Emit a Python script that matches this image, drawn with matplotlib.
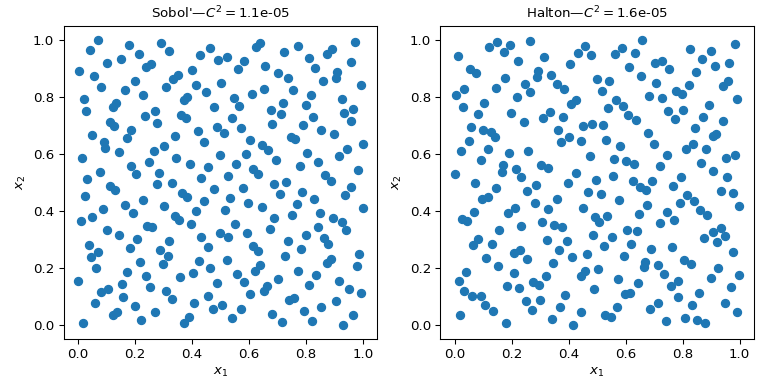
import numpy as np
import matplotlib
matplotlib.use("Agg")
import matplotlib.pyplot as plt

# sample points (x1, x2), 256 per engine
sobol_pts = [
    (0.071, 0.998), (0.042, 0.964), (0.178, 0.983), (0.213, 0.950), (0.291, 0.990),
    (0.320, 0.962), (0.430, 0.946), (0.465, 0.972), (0.103, 0.918), (0.153, 0.932),
    (0.006, 0.891), (0.057, 0.873), (0.082, 0.836), (0.238, 0.904), (0.257, 0.915),
    (0.199, 0.854), (0.164, 0.823), (0.227, 0.807), (0.333, 0.862), (0.352, 0.875),
    (0.309, 0.833), (0.402, 0.893), (0.413, 0.843), (0.449, 0.818), (0.023, 0.791),
    (0.029, 0.749), (0.122, 0.763), (0.135, 0.779), (0.235, 0.733), (0.272, 0.751),
    (0.277, 0.708), (0.371, 0.788), (0.384, 0.801), (0.362, 0.738), (0.378, 0.724),
    (0.113, 0.711), (0.126, 0.696), (0.188, 0.683), (0.171, 0.655), (0.051, 0.666),
    (0.092, 0.642), (0.096, 0.619), (0.145, 0.605), (0.340, 0.661), (0.302, 0.627),
    (0.267, 0.610), (0.423, 0.680), (0.441, 0.642), (0.014, 0.587), (0.249, 0.570),
    (0.345, 0.584), (0.393, 0.566), (0.186, 0.557), (0.205, 0.528), (0.077, 0.538),
    (0.284, 0.534), (0.458, 0.553),
    (0.490, 0.928), (0.522, 0.939), (0.583, 0.925), (0.561, 0.897), (0.625, 0.975),
    (0.640, 0.989), (0.721, 0.958), (0.771, 0.979), (0.809, 0.937), (0.831, 0.900),
    (0.874, 0.950), (0.892, 0.968), (0.973, 0.992), (0.956, 0.921), (0.657, 0.907),
    (0.703, 0.882), (0.738, 0.865), (0.501, 0.850), (0.611, 0.811), (0.654, 0.829),
    (0.753, 0.825), (0.860, 0.854), (0.906, 0.867), (0.910, 0.886), (0.991, 0.841),
    (0.547, 0.797), (0.565, 0.769), (0.476, 0.765), (0.677, 0.754), (0.718, 0.780),
    (0.711, 0.740), (0.799, 0.772), (0.817, 0.808), (0.927, 0.793), (0.934, 0.744),
    (0.966, 0.758), (0.959, 0.715), (0.540, 0.726), (0.573, 0.690), (0.487, 0.694),
    (0.512, 0.672), (0.682, 0.705), (0.789, 0.700), (0.824, 0.728), (0.853, 0.683),
    (0.899, 0.669), (0.604, 0.648), (0.647, 0.630), (0.668, 0.612), (0.746, 0.660),
    (0.762, 0.651), (0.998, 0.634), (0.945, 0.616), (0.917, 0.591), (0.803, 0.602),
    (0.841, 0.573), (0.497, 0.595), (0.590, 0.598), (0.554, 0.563), (0.696, 0.578),
    (0.778, 0.559), (0.615, 0.546), (0.632, 0.531), (0.981, 0.545), (0.526, 0.521),
    (0.868, 0.525),
    (0.032, 0.513), (0.432, 0.515), (0.329, 0.499), (0.276, 0.493), (0.113, 0.487),
    (0.132, 0.474), (0.025, 0.452), (0.365, 0.463), (0.384, 0.449), (0.444, 0.435),
    (0.227, 0.438), (0.166, 0.420), (0.089, 0.406), (0.194, 0.393), (0.301, 0.416),
    (0.416, 0.399), (0.011, 0.365), (0.050, 0.378), (0.243, 0.349), (0.261, 0.344),
    (0.340, 0.381), (0.353, 0.368), (0.397, 0.353), (0.103, 0.333), (0.145, 0.314),
    (0.206, 0.300), (0.184, 0.271), (0.320, 0.294), (0.288, 0.262), (0.316, 0.243),
    (0.299, 0.214), (0.432, 0.310), (0.457, 0.275), (0.039, 0.282), (0.071, 0.257),
    (0.046, 0.239), (0.064, 0.201), (0.217, 0.222), (0.425, 0.226), (0.465, 0.199),
    (0.000, 0.154), (0.173, 0.185), (0.238, 0.172), (0.359, 0.168), (0.404, 0.181),
    (0.154, 0.143), (0.254, 0.133), (0.083, 0.115), (0.107, 0.126), (0.158, 0.097),
    (0.309, 0.119), (0.330, 0.091), (0.455, 0.102), (0.061, 0.079), (0.201, 0.066),
    (0.409, 0.077), (0.124, 0.034), (0.139, 0.046), (0.222, 0.018), (0.270, 0.045),
    (0.373, 0.008), (0.391, 0.027), (0.018, 0.006),
    (0.477, 0.477), (0.578, 0.481), (0.533, 0.444), (0.515, 0.403), (0.597, 0.428),
    (0.645, 0.413), (0.686, 0.496), (0.728, 0.502), (0.707, 0.460), (0.785, 0.467),
    (0.769, 0.423), (0.828, 0.442), (0.886, 0.506), (0.959, 0.483), (0.938, 0.455),
    (0.998, 0.410), (0.849, 0.392), (0.895, 0.374), (0.925, 0.360), (0.941, 0.332),
    (0.841, 0.345), (0.750, 0.385), (0.689, 0.374), (0.672, 0.335), (0.551, 0.355),
    (0.497, 0.323), (0.528, 0.308), (0.593, 0.321), (0.615, 0.278), (0.630, 0.261),
    (0.735, 0.293), (0.783, 0.268), (0.799, 0.316), (0.863, 0.304), (0.878, 0.284),
    (0.727, 0.243), (0.887, 0.233), (0.875, 0.219), (0.984, 0.250), (0.977, 0.207),
    (0.522, 0.229), (0.637, 0.212), (0.622, 0.191), (0.558, 0.178), (0.584, 0.151),
    (0.487, 0.147), (0.771, 0.190), (0.835, 0.175), (0.700, 0.161), (0.810, 0.140),
    (0.917, 0.156), (0.949, 0.126), (0.991, 0.111), (0.664, 0.136), (0.654, 0.121),
    (0.604, 0.108), (0.739, 0.087), (0.757, 0.094), (0.853, 0.065), (0.906, 0.083),
    (0.473, 0.057), (0.507, 0.069), (0.572, 0.055), (0.540, 0.026), (0.679, 0.040),
    (0.714, 0.012), (0.792, 0.051), (0.822, 0.016), (0.931, 0.002), (0.966, 0.037),
]

halton_pts = [
    (0.012, 0.943), (0.122, 0.976), (0.150, 0.992), (0.172, 0.957), (0.193, 0.982),
    (0.264, 0.996), (0.221, 0.926), (0.314, 0.939), (0.406, 0.917), (0.433, 0.955),
    (0.053, 0.897), (0.076, 0.883), (0.176, 0.867), (0.147, 0.831), (0.005, 0.807),
    (0.033, 0.827), (0.104, 0.780), (0.030, 0.765), (0.081, 0.741), (0.218, 0.801),
    (0.246, 0.844), (0.266, 0.816), (0.292, 0.892), (0.288, 0.872), (0.339, 0.878),
    (0.359, 0.847), (0.385, 0.829), (0.409, 0.777), (0.427, 0.788), (0.197, 0.744),
    (0.243, 0.712), (0.310, 0.726), (0.335, 0.747), (0.381, 0.730), (0.364, 0.683),
    (0.374, 0.641), (0.403, 0.659), (0.445, 0.647), (0.059, 0.694), (0.098, 0.686),
    (0.129, 0.676), (0.142, 0.661), (0.052, 0.645), (0.118, 0.619), (0.022, 0.612),
    (0.094, 0.578), (0.191, 0.602), (0.259, 0.610), (0.000, 0.531), (0.169, 0.560),
    (0.165, 0.537), (0.214, 0.547), (0.232, 0.518), (0.303, 0.563), (0.329, 0.551),
    (0.425, 0.534),
    (0.456, 0.978), (0.477, 0.946), (0.562, 0.950), (0.587, 0.971), (0.634, 0.955),
    (0.658, 0.999), (0.611, 0.905), (0.655, 0.875), (0.703, 0.921), (0.729, 0.928),
    (0.753, 0.900), (0.825, 0.968), (0.868, 0.932), (0.898, 0.960), (0.913, 0.908),
    (0.964, 0.919), (0.985, 0.986), (0.847, 0.889), (0.500, 0.865), (0.541, 0.855),
    (0.516, 0.822), (0.707, 0.850), (0.682, 0.805), (0.726, 0.796), (0.778, 0.820),
    (0.797, 0.811), (0.822, 0.841), (0.940, 0.840), (0.960, 0.857), (0.989, 0.793),
    (0.566, 0.790), (0.538, 0.762), (0.591, 0.769), (0.607, 0.737), (0.637, 0.720),
    (0.750, 0.752), (0.772, 0.724), (0.800, 0.756), (0.893, 0.772), (0.872, 0.730),
    (0.943, 0.717), (0.451, 0.698), (0.481, 0.705), (0.520, 0.701), (0.530, 0.651),
    (0.580, 0.628), (0.680, 0.673), (0.701, 0.634), (0.744, 0.598), (0.843, 0.692),
    (0.908, 0.663), (0.918, 0.670), (0.836, 0.637), (0.811, 0.616), (0.882, 0.619),
    (0.474, 0.592), (0.559, 0.584), (0.603, 0.574), (0.631, 0.566), (0.722, 0.557),
    (0.864, 0.570), (0.907, 0.541), (0.952, 0.587), (0.982, 0.595), (0.555, 0.524),
    (0.793, 0.521), (0.957, 0.519),
    (0.071, 0.497), (0.146, 0.481), (0.285, 0.492), (0.255, 0.469), (0.282, 0.430),
    (0.096, 0.442), (0.116, 0.451), (0.398, 0.499), (0.358, 0.444), (0.329, 0.406),
    (0.069, 0.396), (0.026, 0.371), (0.045, 0.365), (0.186, 0.392), (0.212, 0.412),
    (0.234, 0.346), (0.307, 0.360), (0.349, 0.352), (0.378, 0.344), (0.157, 0.332),
    (0.082, 0.303), (0.063, 0.282), (0.131, 0.285), (0.323, 0.300), (0.366, 0.265),
    (0.396, 0.294), (0.413, 0.239), (0.111, 0.236), (0.208, 0.252), (0.230, 0.262),
    (0.253, 0.232), (0.154, 0.207), (0.040, 0.185), (0.017, 0.154), (0.207, 0.182),
    (0.347, 0.218), (0.442, 0.172), (0.184, 0.136), (0.225, 0.129), (0.274, 0.151),
    (0.295, 0.139), (0.321, 0.172), (0.033, 0.121), (0.060, 0.101), (0.092, 0.102),
    (0.108, 0.069), (0.135, 0.051), (0.250, 0.083), (0.298, 0.087), (0.272, 0.053),
    (0.371, 0.063), (0.388, 0.104), (0.019, 0.036), (0.180, 0.006), (0.343, 0.023),
    (0.416, 0.002), (0.442, 0.047),
    (0.496, 0.510), (0.626, 0.507), (0.650, 0.484), (0.673, 0.475), (0.694, 0.507),
    (0.765, 0.489), (0.467, 0.467), (0.512, 0.460), (0.577, 0.439), (0.449, 0.410),
    (0.491, 0.380), (0.506, 0.361), (0.534, 0.381), (0.648, 0.389), (0.676, 0.420),
    (0.790, 0.428), (0.817, 0.457), (0.840, 0.435), (0.862, 0.403), (0.886, 0.385),
    (0.934, 0.471), (0.978, 0.463), (0.999, 0.417), (0.746, 0.397), (0.769, 0.367),
    (0.719, 0.357), (0.605, 0.335), (0.641, 0.329), (0.484, 0.317), (0.552, 0.310),
    (0.523, 0.278), (0.618, 0.285), (0.594, 0.243), (0.690, 0.268), (0.761, 0.275),
    (0.875, 0.307), (0.905, 0.325), (0.933, 0.339), (0.947, 0.313), (0.921, 0.290),
    (0.975, 0.258), (0.463, 0.249), (0.458, 0.188), (0.502, 0.198), (0.668, 0.223),
    (0.665, 0.205), (0.715, 0.211), (0.734, 0.179), (0.804, 0.229), (0.829, 0.214),
    (0.925, 0.200), (0.996, 0.175), (0.572, 0.161), (0.643, 0.146), (0.488, 0.126),
    (0.758, 0.136), (0.785, 0.156), (0.901, 0.166), (0.970, 0.133), (0.597, 0.108),
    (0.616, 0.114), (0.782, 0.098), (0.857, 0.111), (0.832, 0.072), (0.950, 0.077),
    (0.687, 0.057), (0.712, 0.079), (0.570, 0.062), (0.526, 0.037), (0.548, 0.030),
    (0.740, 0.013), (0.808, 0.026), (0.849, 0.018), (0.879, 0.008), (0.991, 0.045),
]

titles = ["Sobol'—$C^2 = $1.1e-05", "Halton—$C^2 = $1.6e-05"]

samples = [np.array(sobol_pts), np.array(halton_pts)]

fig, axs = plt.subplots(1, 2, figsize=(8, 4), dpi=96)
for ax, sample, title in zip(axs, samples, titles):
    ax.scatter(sample[:, 0], sample[:, 1])
    ax.set_aspect("equal")
    ax.set_xlabel(r"$x_1$")
    ax.set_ylabel(r"$x_2$")
    ax.set_title(title, fontsize=10)

plt.tight_layout()
plt.savefig("out.png", dpi=96)
